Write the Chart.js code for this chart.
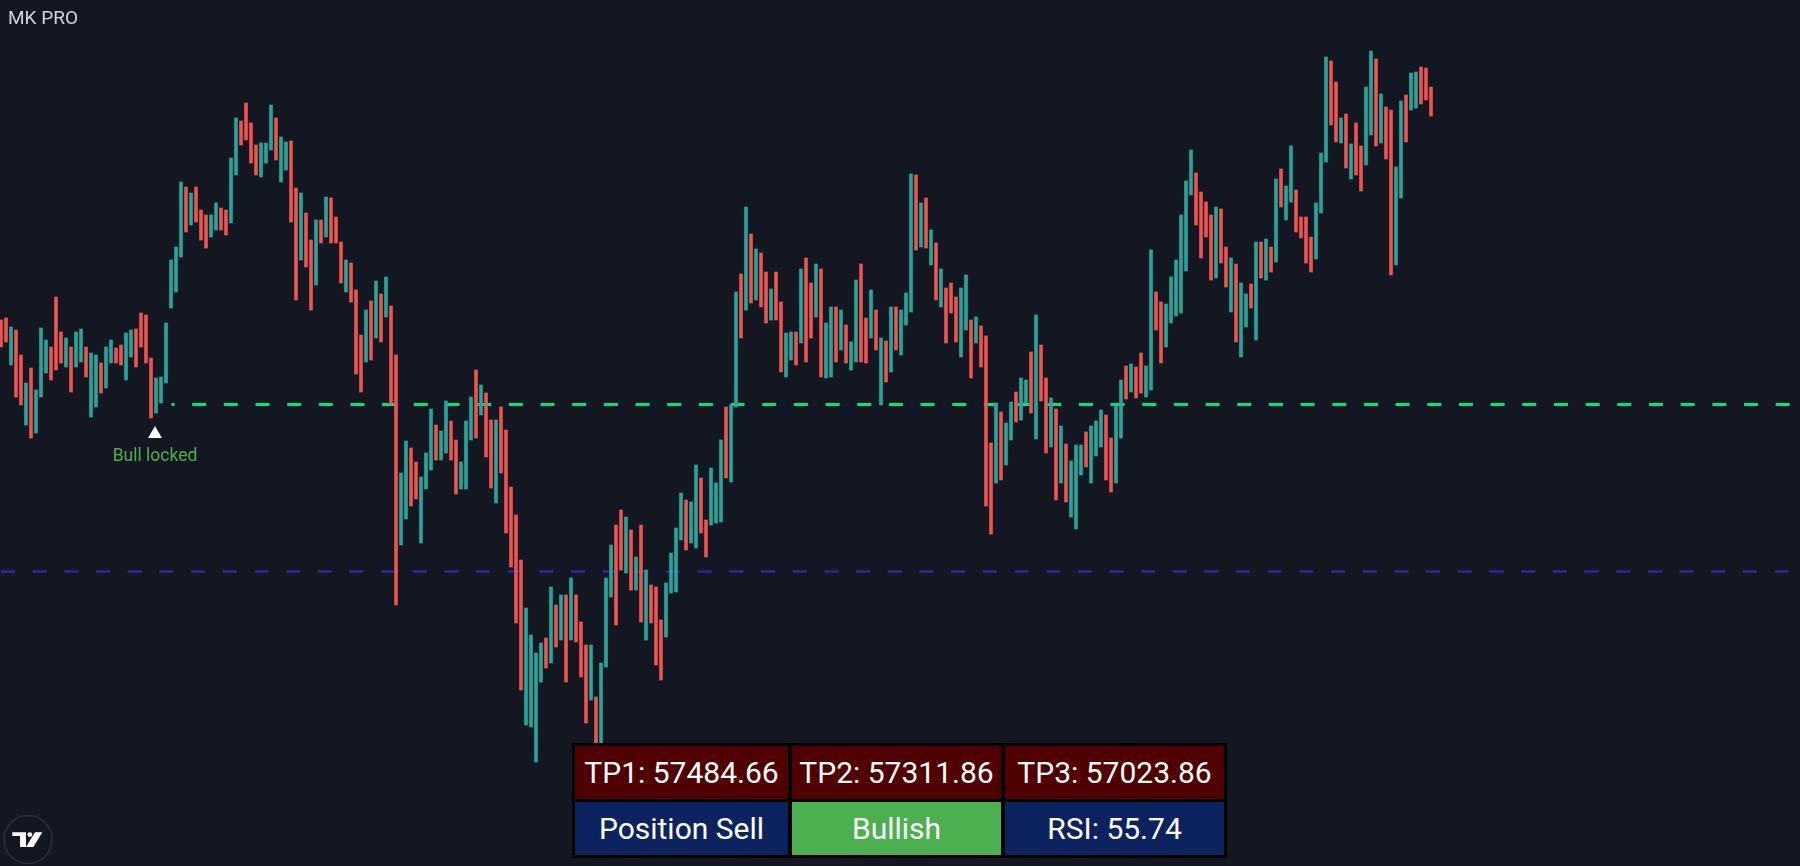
<!DOCTYPE html>
<html>
<head>
<meta charset="utf-8">
<script src="https://cdn.jsdelivr.net/npm/chart.js@4.4.1/dist/chart.umd.min.js"></script>
<style>
	html, body { margin: 0; padding: 0; background: #131722; overflow: hidden; }
	#wrap { position: relative; width: 1800px; height: 866px; }
	#chart { display: block; }
	.title { position: absolute; left: 8px; top: 6px; font: 19px Roboto, sans-serif; color: #d1d4dc; }
	.info {
		position: absolute; left: 572px; top: 743px;
		display: grid; grid-template-columns: 213px 209px 219px; grid-template-rows: 53px 53px;
		gap: 3px 4px; padding: 3px; background: #000;
	}
	.info div { display: flex; align-items: center; justify-content: center; color: #fff; font: 30px Roboto, sans-serif; }
	.tp { background: #500000; }
	.pos { background: #0c2360; }
	.trend { background: #4caf50; }
	.logo { position: absolute; left: 0; top: 811px; }
</style>
</head>
<body>
<div id="wrap">
	<canvas id="chart" width="1800" height="866"></canvas>
	<div class="title">MK PRO</div>
	<div class="info" id="info"></div>
	<svg class="logo" width="60" height="55">
		<circle cx="28" cy="28.5" r="24" fill="none" stroke="#2c303c" stroke-width="1.5"/>
		<path d="M12.3 21.3 H26 V36 H20 V25 H12.3 Z" fill="#fff"/>
		<circle cx="29.8" cy="23.6" r="2.4" fill="#fff"/>
		<path d="M26 36 L35 21.3 H42.3 L33.3 36 Z" fill="#fff"/>
	</svg>
</div>
<script>
// candle highs / lows, one per bar
const highs = [
	58800,58820,58730,58700,58450,58170,58320,58100,58720,58600,
	58530,59030,58680,58620,58530,58680,58710,58530,58470,58450,
	58370,58530,58600,58520,58550,58670,58700,58710,58870,58850,
	58420,58220,58230,58770,59400,59530,60180,60130,60070,60130,
	59900,59850,59850,59970,59920,59900,60420,60820,60790,60970,
	60770,60550,60570,60570,60950,60820,60630,60580,60590,60120,
	60070,59870,59600,59800,59800,60030,60020,59830,59580,59400,
	59370,59100,58650,58900,58990,59190,59060,59230,58940,58450,
	57270,57590,57520,57380,57230,57470,57910,57750,57690,57990,
	57790,57600,57380,57790,58030,58300,58150,58070,57800,57800,
	57930,57700,57130,56850,56400,55920,55650,55470,55570,55620,
	56130,55950,56050,56050,56220,56050,55780,55550,55550,55030,
	55370,56220,56550,56750,56900,56830,56700,56430,56750,56300,
	56150,56130,55800,56170,56470,56720,57070,57000,56980,57350,
	57220,56800,57320,57170,57600,57930,57950,59080,59260,59930,
	59660,59510,59470,59280,59110,59280,58980,58670,58680,58680,
	59310,59420,59170,59360,59310,58770,58930,58930,58900,58750,
	58580,59200,59360,58820,59100,58900,58620,58590,58930,58930,
	58900,59070,60260,60250,59970,60020,59700,59570,59310,59120,
	59170,59030,59120,59250,58800,58830,58740,58640,57570,57970,
	57880,57770,57980,58080,58220,58200,58480,58850,58550,58220,
	58020,57910,57740,57560,57390,57550,57550,57680,57740,57790,
	57900,57850,57620,57940,58200,58340,58360,58330,58470,58340,
	59500,59080,58980,58960,59230,59400,59850,60190,60500,60270,
	60080,59980,59850,59930,59910,59530,59420,59360,59170,59060,
	59160,59580,59580,59610,59530,60210,60310,60140,60540,60100,
	59830,59830,59630,59970,60470,61430,61390,61180,60820,60860,
	60560,60770,60540,61130,61490,61410,61060,60930,60900,60330,
	60990,61050,61270,61280,61330,61320,61130
];
const lows = [
	58530,58580,58350,58030,57950,57750,57620,57670,58030,58270,
	58200,58300,58370,58330,58080,58330,58380,58230,57830,57930,
	58070,58120,58370,58370,58350,58200,58430,58330,58530,58370,
	57820,57870,57970,58170,58920,59080,59430,59680,59750,59780,
	59600,59520,59630,59700,59700,59650,59770,60250,60550,60600,
	60370,60250,60230,60370,60500,60400,60180,60300,59780,59000,
	59400,59330,58900,59150,59570,59630,59570,59570,59170,59080,
	58980,58260,58080,58380,58400,58620,58580,58830,57960,55950,
	56550,56810,56940,57010,56570,57110,57300,57400,57400,57470,
	57400,57060,57110,57110,57600,57620,57850,57430,57120,56970,
	57270,56670,56330,55770,55100,54750,54730,54380,55180,55320,
	55370,55530,55600,55180,55600,55580,55230,54770,55000,54220,
	54030,55330,56030,55750,56300,56270,56100,56100,55780,55600,
	55770,55350,55200,55630,56070,56080,56600,56500,56570,56520,
	56670,56430,56750,56770,56780,57220,57180,57930,58620,58900,
	58970,59000,58930,58770,58800,58800,58280,58230,58400,58350,
	58570,58380,58620,58830,58230,58220,58230,58380,58500,58370,
	58300,58380,58380,58370,58620,58500,57950,58180,58280,58500,
	58450,58750,58880,59500,59530,59520,59350,59000,58930,58570,
	58870,58580,58430,58700,58220,58570,58330,56940,56660,57170,
	57200,57350,57600,57780,57800,57970,57870,57610,57990,57470,
	57530,57000,57170,56980,56830,56710,57250,57330,57170,57440,
	57530,57200,57080,57170,57620,58010,58080,58020,58070,58030,
	58100,58700,58370,58530,58770,58840,58870,59290,60050,59750,
	59420,59630,59200,59220,59370,59130,58880,58580,58430,58730,
	58920,58600,59220,59200,59280,59380,59930,59800,59980,59680,
	59620,59370,59280,59410,59870,60380,60750,60580,60570,60320,
	60210,60250,60090,60350,60650,60540,60570,60410,59250,59350,
	60020,60580,60900,60920,60960,61000,60840
];
// u = close above open, d = close below open
const dirs = (
	"ddudduduuu" + "ddduduuduu" + "duudduuddd" + "duuuuuudud" + "dduudduudd" +
	"dduuuduudd" + "uddududddu" + "dddudududd" + "uudduuuduu" + "dduuududdu" +
	"ddddduuuud" + "udududddud" + "uuuddududu" + "ddduuuuduu" + "dduuuduudu" +
	"duddudduud" + "udduduudud" + "uuddududud" + "uuudududud" + "dduududddu" +
	"duuduududd" + "ududuuuduu" + "udduududdu" + "udduuuuuud" + "dddudduduu" +
	"dudududuud" + "ddduuuddud" + "udduududdu" + "uduuddd"
).split("");

const supportLevel = 57955;
const lowerLevel = 56285;
const signalBar = 30.8;
const signalPrice = 57660;
const signalText = "Bull locked";

const tableCells = [
	["TP1: 57484.66", "tp"], ["TP2: 57311.86", "tp"], ["TP3: 57023.86", "tp"],
	["Position Sell", "pos"], ["Bullish", "trend"], ["RSI: 55.74", "pos"],
];

const info = document.getElementById("info");
for (const [text, cls] of tableCells) {
	const cell = document.createElement("div");
	cell.className = cls;
	cell.textContent = text;
	info.appendChild(cell);
}

const candles = highs.map((h, i) => ({ x: i, y: [lows[i], h] }));
const candleColors = dirs.map((d) => (d === "u" ? "#26a69a" : "#ef5350"));

const signalLabel = {
	id: "signalLabel",
	afterDatasetsDraw(chart) {
		const ctx = chart.ctx;
		const x = chart.scales.x.getPixelForValue(signalBar);
		const y = chart.scales.y.getPixelForValue(signalPrice);
		ctx.save();
		ctx.fillStyle = "#4caf50";
		ctx.font = "17.5px Roboto, sans-serif";
		ctx.textAlign = "center";
		ctx.textBaseline = "middle";
		ctx.fillText(signalText, x, y + 23);
		ctx.restore();
	},
};

new Chart(document.getElementById("chart"), {
	type: "bar",
	data: {
		datasets: [
			{
				type: "line",
				data: [{ x: 34.1, y: supportLevel }, { x: 359.8, y: supportLevel }],
				borderColor: "#00e676",
				borderWidth: 3,
				borderDash: [14, 17.67],
				borderDashOffset: 11,
				pointRadius: 0,
				order: 2,
			},
			{
				type: "line",
				data: [{ x: -0.2, y: lowerLevel }, { x: 359.8, y: lowerLevel }],
				borderColor: "#33259c",
				borderWidth: 2.5,
				borderDash: [14, 17.67],
				borderDashOffset: 30.67,
				pointRadius: 0,
				order: 2,
			},
			{
				data: candles,
				backgroundColor: candleColors,
				barThickness: 3,
				order: 1,
			},
			{
				type: "line",
				data: [{ x: signalBar, y: signalPrice }],
				showLine: false,
				pointStyle: "triangle",
				pointRadius: 8,
				pointBackgroundColor: "#ffffff",
				pointBorderWidth: 0,
				order: 0,
			},
		],
	},
	options: {
		responsive: false,
		animation: false,
		layout: { padding: 0, autoPadding: false },
		plugins: { legend: { display: false }, tooltip: { enabled: false } },
		scales: {
			x: { type: "linear", min: -0.2, max: 359.8, offset: false, display: false },
			y: { min: 53340, max: 62000, display: false },
		},
	},
	plugins: [signalLabel],
});
</script>
</body>
</html>
